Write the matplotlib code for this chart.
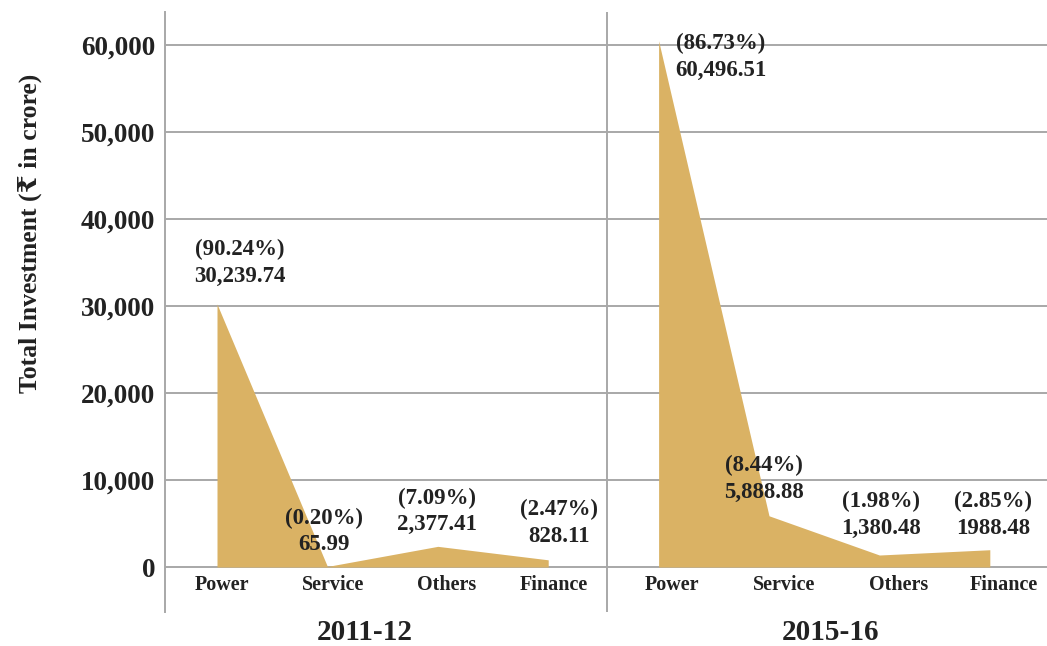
import numpy as np
import matplotlib
matplotlib.use("Agg")
import matplotlib.pyplot as plt
import matplotlib.transforms as mtransforms

# data
sectors = ["Power", "Service", "Others", "Finance"]
years = ["2011-12", "2015-16"]
invest_2011 = [30239.74, 65.99, 2377.41, 828.11]
invest_2015 = [60496.51, 5888.88, 1380.48, 1988.48]
value_labels_2011 = ["30,239.74", "65.99", "2,377.41", "828.11"]
value_labels_2015 = ["60,496.51", "5,888.88", "1,380.48", "1988.48"]
share_2011 = ["(90.24%)", "(0.20%)", "(7.09%)", "(2.47%)"]
share_2015 = ["(86.73%)", "(8.44%)", "(1.98%)", "(2.85%)"]
yticks = [0, 10000, 20000, 30000, 40000, 50000, 60000]

plt.rcParams["font.family"] = ["Liberation Serif", "DejaVu Serif", "DejaVu Sans"]
plt.rcParams["font.weight"] = "bold"

fill_color = "#DAB264"
grid_color = "#A8A8A8"
text_color = "#222222"

fig = plt.figure(figsize=(10.47, 6.46), dpi=100)
ax = fig.add_axes([165 / 1047, 34 / 646, 1 - 165 / 1047, 600 / 646])

x1 = np.arange(len(sectors))
x2 = x1 + len(sectors)
ax.fill_between(x1, 0, invest_2011, color=fill_color, linewidth=0, zorder=2)
ax.fill_between(x2, 0, invest_2015, color=fill_color, linewidth=0, zorder=2)

ax.set_xlim(-0.471, 7.518)
ax.set_ylim(-5170, 63800)

for y in yticks:
    ax.axhline(y, color=grid_color, linewidth=1.4, zorder=1)
ax.axvline(3.53, color=grid_color, linewidth=1.4, zorder=1)

for side in ["top", "right", "bottom"]:
    ax.spines[side].set_visible(False)
ax.spines["left"].set_color(grid_color)
ax.spines["left"].set_linewidth(1.4)

ax.set_xticks([])
ax.set_yticks(yticks)
ax.set_yticklabels([f"{v:,}" for v in yticks], fontsize=19.5, fontweight="bold",
                   color=text_color)
ax.tick_params(axis="y", length=0, pad=7)

# sector labels under each area
label_shift = [5, 6, 9, 6, 13, 15, 19, 14]
all_x = list(x1) + list(x2)
for i, (xv, name) in enumerate(zip(all_x, sectors + sectors)):
    tr = ax.transData + mtransforms.ScaledTranslation(label_shift[i] / 100, -18 / 100,
                                                     fig.dpi_scale_trans)
    ax.text(xv, 0, name, transform=tr, ha="center", va="center", fontsize=14.5,
            fontweight="bold", color=text_color)

# value annotations
offsets = [(23, 41), (-3, 35), (-1, 35), (11, 37),
           (62, -16), (-5, 37), (2, 40), (3, 35)]
values = invest_2011 + invest_2015
texts = [f"{s}\n{v}" for s, v in zip(share_2011 + share_2015,
                                      value_labels_2011 + value_labels_2015)]
for i, (xv, val, t) in enumerate(zip(all_x, values, texts)):
    ax.annotate(t, xy=(xv, val), xytext=offsets[i], textcoords="offset pixels",
                ha="center", va="center", fontsize=16.5, fontweight="bold",
                color=text_color, linespacing=1.35, zorder=3)

# year labels
btr = mtransforms.blended_transform_factory(ax.transData, fig.transFigure)
ax.text(1.34, 13 / 646, years[0], transform=btr, ha="center", va="center",
        fontsize=21, fontweight="bold", color=text_color)
ax.text(5.56, 13 / 646, years[1], transform=btr, ha="center", va="center",
        fontsize=21, fontweight="bold", color=text_color)

fig.text(30 / 1047, 1 - 233 / 646, "Total Investment (\u20b9 in crore)",
         rotation=90, ha="center", va="center", fontsize=18.5, fontweight="bold",
         color=text_color)

fig.savefig("out.png", dpi=100, facecolor="white")
